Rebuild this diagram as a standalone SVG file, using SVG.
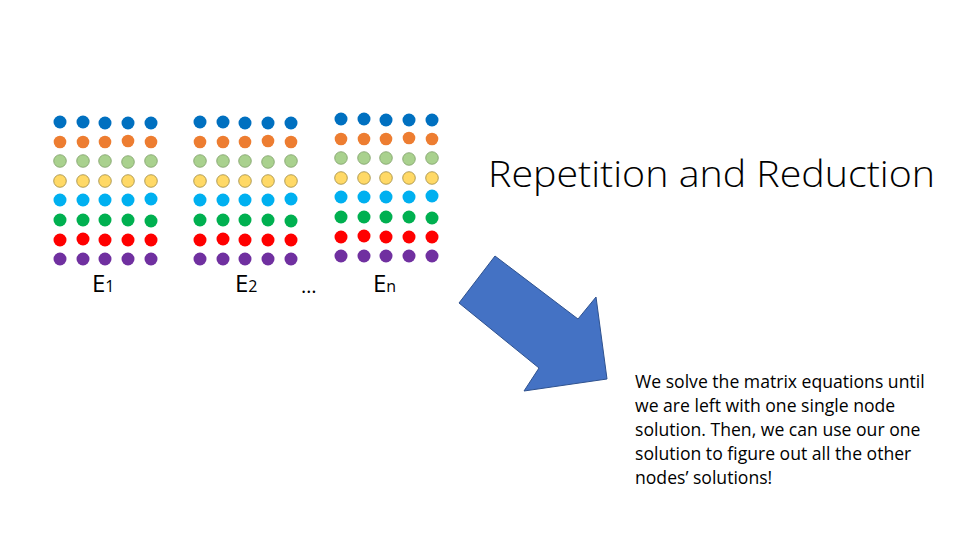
<svg xmlns="http://www.w3.org/2000/svg" width="960" height="540" viewBox="0 0 960 540">
<defs>
<style>
.c1{fill:#0070C0}
.c2{fill:#ED7D31}
.c3{fill:#A9D18E;stroke:#7f9f6a;stroke-width:0.8}
.c4{fill:#FFD966;stroke:#a08a40;stroke-width:0.8}
.c5{fill:#00B0F0}
.c6{fill:#00B050}
.c7{fill:#FF0000}
.c8{fill:#7030A0}
.lbl{font-family:"Open Sans","Liberation Sans",Arial,sans-serif;fill:#000}
.body{font-family:"Open Sans","Liberation Sans",sans-serif;font-size:17.6px;fill:#000}
</style>
<g id="grid">
<g class="c1"><circle cx="0" cy="0" r="6.5"/><circle cx="23" cy="0" r="6.5"/><circle cx="45" cy="1" r="6.5"/><circle cx="68" cy="1" r="6.5"/><circle cx="91" cy="1" r="6.5"/></g>
<g class="c2"><circle cx="0" cy="20" r="6.3"/><circle cx="23" cy="20" r="6.3"/><circle cx="45" cy="20" r="6.3"/><circle cx="68" cy="19" r="6.3"/><circle cx="91" cy="20" r="6.3"/></g>
<g class="c3"><circle cx="0" cy="39" r="6.3"/><circle cx="23" cy="39" r="6.3"/><circle cx="45" cy="39" r="6.3"/><circle cx="68" cy="40" r="6.3"/><circle cx="91" cy="39" r="6.3"/></g>
<g class="c4"><circle cx="0" cy="59" r="6.3"/><circle cx="23" cy="59" r="6.3"/><circle cx="45" cy="59" r="6.3"/><circle cx="68" cy="59" r="6.3"/><circle cx="91" cy="59" r="6.3"/></g>
<g class="c5"><circle cx="0" cy="78" r="6.5"/><circle cx="23" cy="78" r="6.5"/><circle cx="45" cy="78" r="6.5"/><circle cx="68" cy="78" r="6.5"/><circle cx="91" cy="77" r="6.5"/></g>
<g class="c6"><circle cx="0" cy="98" r="6.5"/><circle cx="23" cy="98" r="6.5"/><circle cx="45" cy="98" r="6.5"/><circle cx="68" cy="98" r="6.5"/><circle cx="91" cy="99" r="6.5"/></g>
<g class="c7"><circle cx="0" cy="118" r="6.5"/><circle cx="23" cy="117" r="6.5"/><circle cx="45" cy="118" r="6.5"/><circle cx="68" cy="118" r="6.5"/><circle cx="91" cy="118" r="6.5"/></g>
<g class="c8"><circle cx="0" cy="137" r="6.5"/><circle cx="23" cy="137" r="6.5"/><circle cx="45" cy="137" r="6.5"/><circle cx="68" cy="137" r="6.5"/><circle cx="91" cy="137" r="6.5"/></g>
</g>
</defs>
<rect width="960" height="540" fill="#fff"/>
<g id="E1"><use href="#grid" x="60" y="122"/>
<text class="lbl" x="92" y="292" font-size="24">E<tspan font-size="16">1</tspan></text></g>
<g id="E2"><use href="#grid" x="200" y="122"/>
<text class="lbl" x="235" y="292" font-size="24">E<tspan font-size="16">2</tspan></text></g>
<g id="ellipsis"><text class="lbl" x="301" y="293" font-size="20">…</text></g>
<g id="En"><use href="#grid" x="341" y="119"/>
<text class="lbl" x="373" y="292" font-size="24">E<tspan font-size="16">n</tspan></text></g>
<g id="title"><text x="488" y="187" font-family="'Open Sans','Liberation Sans',sans-serif" font-size="36" font-weight="300" textLength="447" lengthAdjust="spacingAndGlyphs">Repetition and Reduction</text></g>
<g id="arrow"><polygon points="495,256 459,303 539,368 524,391 607,379 596,297 578,319" fill="#4472C4" stroke="#2F528F" stroke-width="1"/></g>
<g id="note">
<text class="body" x="635" y="388">We solve the matrix equations until</text>
<text class="body" x="635" y="412">we are left with one single node</text>
<text class="body" x="635" y="436">solution. Then, we can use our one</text>
<text class="body" x="635" y="460">solution to figure out all the other</text>
<text class="body" x="635" y="484">nodes’ solutions!</text>
</g>
</svg>
